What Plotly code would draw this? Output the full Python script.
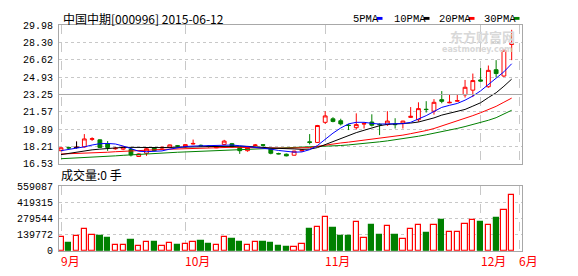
import plotly.graph_objects as go

# ---------------- data ----------------
title_text = "中国中期[000996] 2015-06-12"
volume_title = "成交量:0 手"

opens = [17.80, 18.10, 18.13, 18.17, 18.90, 18.85, 18.45, 17.98, 17.95, 17.92,
         17.24, 17.55, 18.11, 18.05, 18.11, 18.28, 18.17, 18.45, 18.32, 18.25,
         18.08, 18.41, 18.48, 18.11, 17.80, 18.30, 18.38, 18.01, 17.52, 17.46,
         17.36, 17.78, 18.66, 18.60, 20.55, 20.89, 20.70, 20.28, 20.03, 20.38,
         20.58, 20.36, 20.33, 20.37, 20.43, 21.03, 20.80, 21.82, 21.63, 22.75,
         22.44, 22.60, 23.21, 23.67, 24.66, 24.00, 25.65, 25.04, 28.10]
highs = [18.15, 18.20, 18.69, 19.41, 19.10, 18.90, 18.73, 18.15, 18.25, 18.10,
         17.55, 18.10, 18.15, 18.20, 18.40, 18.35, 18.42, 18.88, 18.40, 18.32,
         18.25, 18.85, 18.55, 18.15, 18.15, 18.45, 18.45, 18.08, 17.60, 17.52,
         17.80, 17.95, 19.41, 20.30, 21.63, 21.05, 20.90, 20.40, 21.42, 20.55,
         21.33, 20.45, 21.63, 20.95, 20.70, 22.03, 22.49, 22.60, 22.80, 23.58,
         23.21, 23.21, 24.66, 25.28, 25.81, 26.06, 26.58, 27.60, 29.52]
lows = [17.75, 17.95, 18.02, 18.10, 18.75, 18.08, 17.78, 17.90, 17.85, 17.24,
        17.20, 17.30, 17.75, 17.95, 18.05, 18.15, 18.12, 18.40, 18.20, 18.10,
        18.05, 18.35, 18.10, 17.49, 17.70, 18.25, 18.20, 17.45, 17.45, 17.25,
        17.33, 17.70, 18.41, 18.55, 20.40, 20.55, 20.25, 19.80, 19.85, 19.95,
        20.15, 19.31, 20.20, 19.95, 19.95, 20.98, 20.60, 21.50, 21.30, 22.40,
        22.40, 22.55, 22.95, 23.00, 24.50, 23.90, 24.90, 24.95, 26.58]
closes = [18.08, 18.06, 18.13, 18.94, 18.96, 18.11, 18.11, 18.04, 18.15, 17.39,
          17.49, 17.99, 17.80, 18.12, 18.36, 18.24, 18.39, 18.50, 18.27, 18.20,
          18.15, 18.73, 18.17, 17.80, 18.11, 18.35, 18.33, 17.55, 17.49, 17.30,
          17.76, 17.85, 18.60, 20.24, 21.17, 20.64, 20.40, 20.24, 20.33, 20.43,
          20.27, 20.33, 20.67, 20.33, 20.67, 21.13, 21.88, 21.79, 22.49, 22.59,
          22.49, 22.65, 23.95, 24.60, 24.55, 25.59, 25.28, 27.54, 28.20]
volumes = [115700, 66100, 123900, 190000, 132200, 123900, 107400, 49600, 49600, 90900,
           41300, 79900, 74400, 41300, 66100, 49600, 57800, 71600, 82600, 57800,
           49600, 121200, 99200, 74400, 49600, 71600, 74400, 66100, 41300, 33000,
           30300, 57800, 190000, 206600, 294700, 198300, 123900, 123900, 245100, 112900,
           223100, 132200, 214800, 132200, 104700, 187300, 220300, 157000, 220300, 264400,
           162500, 162500, 228600, 269900, 247900, 220300, 280900, 355300, 484700]
ma5 = [17.80, 17.90, 18.00, 18.17, 18.35, 18.48, 18.50, 18.45, 18.25, 18.00,
       17.75, 17.70, 17.72, 17.78, 17.95, 18.10, 18.20, 18.25, 18.28, 18.28,
       18.30, 18.35, 18.35, 18.28, 18.20, 18.15, 18.08, 17.95, 17.82, 17.72,
       17.66, 17.68, 17.90, 18.30, 18.92, 19.50, 20.00, 20.40, 20.55, 20.55,
       20.45, 20.38, 20.40, 20.40, 20.42, 20.55, 20.86, 21.20, 21.60, 22.00,
       22.20, 22.38, 22.70, 23.10, 23.60, 24.20, 24.80, 25.45, 26.23]
ma10 = [17.42, 17.55, 17.65, 17.80, 17.88, 17.95, 18.02, 18.08, 18.12, 18.12,
        18.10, 18.10, 18.10, 18.10, 18.12, 18.12, 18.12, 18.15, 18.18, 18.20,
        18.22, 18.23, 18.23, 18.23, 18.22, 18.20, 18.12, 18.05, 18.00, 17.98,
        17.97, 17.93, 17.95, 18.10, 18.40, 18.72, 18.95, 19.25, 19.55, 19.78,
        20.02, 20.22, 20.35, 20.38, 20.40, 20.48, 20.58, 20.75, 20.98, 21.25,
        21.42, 21.57, 21.80, 22.12, 22.45, 22.95, 23.42, 24.05, 24.74]
ma20 = [17.48, 17.50, 17.52, 17.55, 17.57, 17.60, 17.65, 17.70, 17.75, 17.80,
        17.82, 17.85, 17.88, 17.92, 17.95, 17.98, 18.02, 18.05, 18.08, 18.10,
        18.12, 18.13, 18.13, 18.12, 18.12, 18.12, 18.10, 18.08, 18.05, 18.04,
        18.04, 18.06, 18.10, 18.22, 18.35, 18.47, 18.55, 18.63, 18.72, 18.80,
        18.90, 19.00, 19.10, 19.20, 19.31, 19.45, 19.58, 19.75, 19.95, 20.20,
        20.45, 20.65, 20.92, 21.20, 21.48, 21.80, 22.10, 22.50, 22.90]
ma30 = [17.02, 17.05, 17.08, 17.12, 17.16, 17.20, 17.25, 17.30, 17.35, 17.40,
        17.45, 17.50, 17.55, 17.58, 17.62, 17.65, 17.68, 17.71, 17.74, 17.77,
        17.80, 17.84, 17.88, 17.91, 17.94, 17.97, 18.00, 18.02, 18.04, 18.06,
        18.08, 18.10, 18.12, 18.16, 18.20, 18.25, 18.30, 18.36, 18.42, 18.50,
        18.58, 18.66, 18.75, 18.85, 18.95, 19.08, 19.20, 19.34, 19.48, 19.64,
        19.80, 19.96, 20.14, 20.33, 20.52, 20.75, 21.00, 21.33, 21.72]

price_ticks = [16.53, 18.21, 19.89, 21.57, 23.25, 24.93, 26.62, 28.30, 29.98]
price_labels = ["16.53", "18.21", "19.89", "21.57", "23.25", "24.93", "26.62", "28.30", "29.98"]
volume_ticks = [0, 139772, 279544, 419315, 559087]
volume_labels = ["0", "139772", "279544", "419315", "559087"]
month_pos = [0, 16, 34, 54, 59]
month_labels = ["9月", "10月", "11月", "12月", "6月"]
ma_names = ["5PMA", "10PMA", "20PMA", "30PMA"]

# ---------------- styles ----------------
RED = "#ff0000"
GREEN = "#008000"
ma_colors = ["#0000ff", "#000000", "#ff0000", "#008000"]
GRID = "#c8c8c8"
FRAME = "#a8a8a8"
MONO = "Liberation Mono"
CJK = "Noto Sans CJK SC"
W, H = 578, 276


def px(x):
    return x / W


def py(y):
    return 1 - y / H


xs = list(range(len(closes)))

fig = go.Figure()

fig.add_trace(go.Candlestick(
    x=xs, open=opens, high=highs, low=lows, close=closes,
    xaxis="x", yaxis="y",
    increasing=dict(line=dict(color=RED, width=1), fillcolor="#ffffff"),
    decreasing=dict(line=dict(color=GREEN, width=1), fillcolor=GREEN),
    whiskerwidth=0, hoverinfo="skip", showlegend=False,
))

# doji (open == close) drawn in black
dx, dy = [], []
for i in xs:
    if opens[i] == closes[i]:
        dx += [i, i, None, i - 0.35, i + 0.35, None]
        dy += [lows[i], highs[i], None, opens[i], opens[i], None]
if dx:
    fig.add_trace(go.Scatter(x=dx, y=dy, mode="lines", xaxis="x", yaxis="y",
                             line=dict(color="#000000", width=1),
                             hoverinfo="skip", showlegend=False))

for vals, col in zip([ma30, ma20, ma10, ma5], ma_colors[::-1]):
    fig.add_trace(go.Scatter(x=xs, y=vals, mode="lines", xaxis="x", yaxis="y",
                             line=dict(color=col, width=1),
                             hoverinfo="skip", showlegend=False))

up = [c >= o for o, c in zip(opens, closes)]
fig.add_trace(go.Bar(
    x=xs, y=volumes, xaxis="x2", yaxis="y2", width=0.68,
    marker=dict(color=["#ffffff" if u else GREEN for u in up],
                line=dict(color=[RED if u else GREEN for u in up], width=1.2)),
    hoverinfo="skip", showlegend=False,
))

xdom = [px(59), px(521.7)]
xr = [-0.26, 59.29]
common_x = dict(domain=xdom, range=xr, tickvals=month_pos, showticklabels=False,
                showgrid=True, gridcolor=GRID, griddash="dash", gridwidth=1,
                showline=True, mirror=True, linecolor=FRAME, linewidth=1,
                zeroline=False, ticks="", fixedrange=True)

fig.update_layout(
    width=W, height=H, margin=dict(l=0, r=0, t=0, b=0),
    paper_bgcolor="#ffffff", plot_bgcolor="#ffffff",
    showlegend=False, bargap=0,
    xaxis=dict(anchor="y", rangeslider=dict(visible=False), **common_x),
    xaxis2=dict(anchor="y2", matches="x", **common_x),
    yaxis=dict(domain=[py(166), py(21)], range=[price_ticks[0], price_ticks[-1]],
               tickvals=price_ticks, ticktext=price_labels,
               tickfont=dict(family=MONO, size=10, color="#000000"),
               showgrid=True, gridcolor=GRID, griddash="dot", gridwidth=1,
               showline=True, mirror=True, linecolor=FRAME, linewidth=1,
               zeroline=False, ticks="", ticklabelstandoff=3, fixedrange=True),
    yaxis2=dict(domain=[py(257), py(189.3)], range=[volume_ticks[0], volume_ticks[-1]],
                tickvals=volume_ticks, ticktext=volume_labels,
                tickfont=dict(family=MONO, size=10, color="#000000"),
                showgrid=True, gridcolor=GRID, griddash="dot", gridwidth=1,
                showline=True, mirror=True, linecolor=FRAME, linewidth=1,
                zeroline=False, ticks="", ticklabelstandoff=3, fixedrange=True),
)

shapes = [
    dict(type="line", xref="x domain", yref="y", x0=0, x1=1,
         y0=price_ticks[4], y1=price_ticks[4], line=dict(color=FRAME, width=1)),
]
annotations = [
    dict(text=title_text, x=px(61), y=py(14), xref="paper", yref="paper",
         xanchor="left", yanchor="middle", showarrow=False,
         font=dict(family=CJK, size=12, color="#000000")),
    dict(text=volume_title, x=px(59), y=py(177), xref="paper", yref="paper",
         xanchor="left", yanchor="middle", showarrow=False,
         font=dict(family=CJK, size=12, color="#000000")),
    dict(text="<b>东方财富网</b>", x=px(482), y=py(33), xref="paper", yref="paper",
         xanchor="center", yanchor="middle", showarrow=False,
         font=dict(family=CJK, size=13, color="#d8d8d8")),
    dict(text="<b>eastmoney.com</b>", x=px(477), y=py(46.5), xref="paper", yref="paper",
         xanchor="center", yanchor="middle", showarrow=False,
         font=dict(family="DejaVu Sans", size=8, color="#d8d8d8")),
]

legend_x = [351, 392, 437, 482]
swatch_x = [377, 424, 469, 514]
for name, col, lx, sx in zip(ma_names, ma_colors, legend_x, swatch_x):
    annotations.append(dict(text=name, x=px(lx), y=py(14.5), xref="paper", yref="paper",
                            xanchor="left", yanchor="middle", showarrow=False,
                            font=dict(family=MONO, size=10.5, color="#000000")))
    shapes.append(dict(type="rect", xref="paper", yref="paper",
                       x0=px(sx), x1=px(sx + 5.5), y0=py(15.5), y1=py(12.5),
                       line=dict(width=0), fillcolor=col))

for pos, lab in zip(month_pos, month_labels):
    annotations.append(dict(text=lab, x=pos, y=py(267), xref="x2", yref="paper",
                            xanchor="left", yanchor="middle", xshift=-2, showarrow=False,
                            font=dict(family=CJK, size=12, color=RED)))

fig.update_layout(shapes=shapes, annotations=annotations)

fig.write_html("out.html")
